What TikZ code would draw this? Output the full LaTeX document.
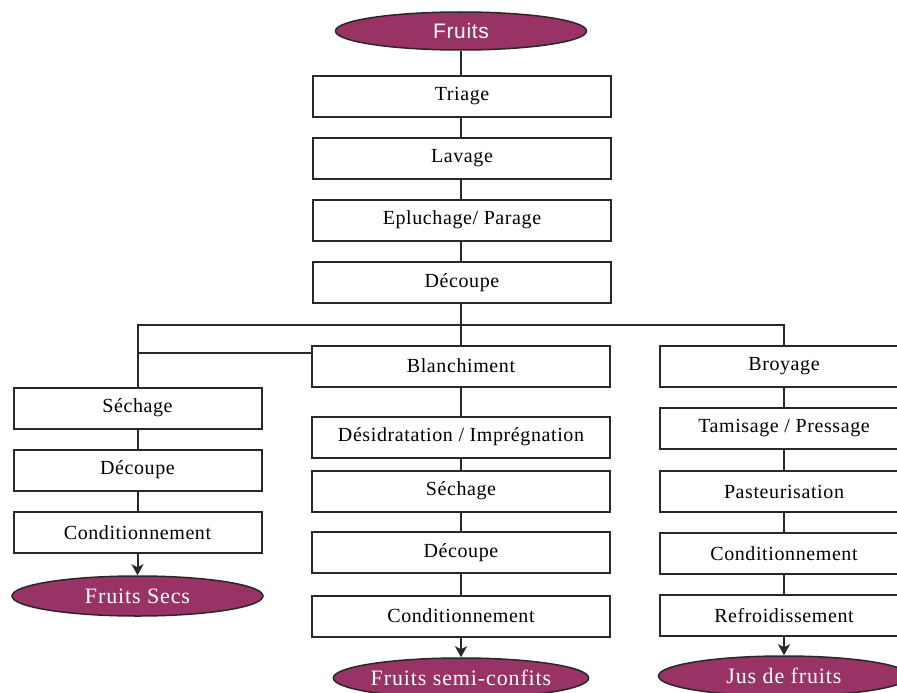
\documentclass[tikz,border=0pt]{standalone}
\usepackage{fontspec}
\setmainfont{Liberation Serif}
\newfontfamily\sansf{Liberation Sans}
\usetikzlibrary{shapes.geometric,arrows.meta}
\definecolor{plumfill}{RGB}{153,51,102}
\definecolor{linec}{RGB}{40,40,40}
\begin{document}
\begin{tikzpicture}[x=1pt,y=-1pt,
  stepbox/.style={draw=linec,line width=2pt,fill=white,minimum height=41pt,inner sep=0pt,
    font=\fontsize{20}{22}\selectfont\addfontfeature{LetterSpace=3}},
  wbox/.style={stepbox,minimum width=298pt},
  nbox/.style={stepbox,minimum width=248pt},
  endpt/.style={ellipse,draw=linec,line width=1.5pt,fill=plumfill,text=white,inner sep=0pt,
    minimum width=251pt,minimum height=40pt,
    font=\fontsize{22}{24}\selectfont\addfontfeature{LetterSpace=4}},
  link/.style={draw=linec,line width=2pt},
  arr/.style={link,-{Stealth[length=11pt,width=12pt,inset=3pt]}}]
\clip (0,0) rectangle (897,693);
\fill[white] (0,0) rectangle (897,693);
% main column
\node[endpt,minimum height=38pt,font=\sansf\fontsize{21}{23}\selectfont\addfontfeature{LetterSpace=3}] (fruits) at (461,31) {Fruits};
\node[wbox] (triage) at (462,96.5) {Triage};
\node[wbox] (lavage) at (462,158) {Lavage};
\node[wbox] (eplu) at (462,220) {Epluchage/ Parage};
\node[wbox] (dec) at (462,282.5) {Découpe};
% left column
\node[nbox] (lsech) at (137.5,408) {Séchage};
\node[nbox] (ldec) at (137.5,470) {Découpe};
\node[nbox] (lcond) at (137.5,532.5) {Conditionnement};
\node[endpt] (secs) at (137.5,596) {Fruits Secs};
% middle column
\node[wbox] (blanch) at (461,366) {Blanchiment};
\node[wbox] (desid) at (461,437) {Désidratation / Imprégnation};
\node[wbox] (msech) at (461,491) {Séchage};
\node[wbox] (mdec) at (461,552.5) {Découpe};
\node[wbox] (mcond) at (461,616) {Conditionnement};
\node[endpt] (semi) at (461,678) {Fruits semi-confits};
% right column
\node[nbox] (broy) at (784,366.5) {Broyage};
\node[nbox] (tamis) at (784,428.5) {Tamisage / Pressage};
\node[nbox] (past) at (784,491.5) {Pasteurisation};
\node[nbox] (rcond) at (784,553.5) {Conditionnement};
\node[nbox] (refr) at (784,615.5) {Refroidissement};
\node[endpt] (jus) at (784,676) {Jus de fruits};
% coordinates for branching
\coordinate (bl) at (137.5,325);
\coordinate (bm) at (461,325);
\coordinate (br) at (784,325);
\coordinate (bl2) at (137.5,353);
% connectors main
\draw[link] (fruits.south -| bm) -- (triage.north -| bm);
\draw[link] (triage.south -| bm) -- (lavage.north -| bm);
\draw[link] (lavage.south -| bm) -- (eplu.north -| bm);
\draw[link] (eplu.south -| bm) -- (dec.north -| bm);
\draw[link] (dec.south -| bm) -- (bm);
\draw[link,line cap=rect] (bl) -- (br);
\draw[link] (bl) -- (lsech.north);
\draw[link] (bl2) -- (bl2 -| blanch.west);
\draw[link] (bm) -- (blanch.north -| bm);
\draw[link] (br) -- (broy.north);
% left
\draw[link] (lsech) -- (ldec);
\draw[link] (ldec) -- (lcond);
\draw[arr] (lcond) -- (secs);
% middle
\draw[link] (blanch) -- (desid);
\draw[link] (desid) -- (msech);
\draw[link] (msech) -- (mdec);
\draw[link] (mdec) -- (mcond);
\draw[arr] (mcond) -- (semi);
% right
\draw[link] (broy) -- (tamis);
\draw[link] (tamis) -- (past);
\draw[link] (past) -- (rcond);
\draw[link] (rcond) -- (refr);
\draw[arr] (refr) -- (jus);
\end{tikzpicture}
\end{document}
